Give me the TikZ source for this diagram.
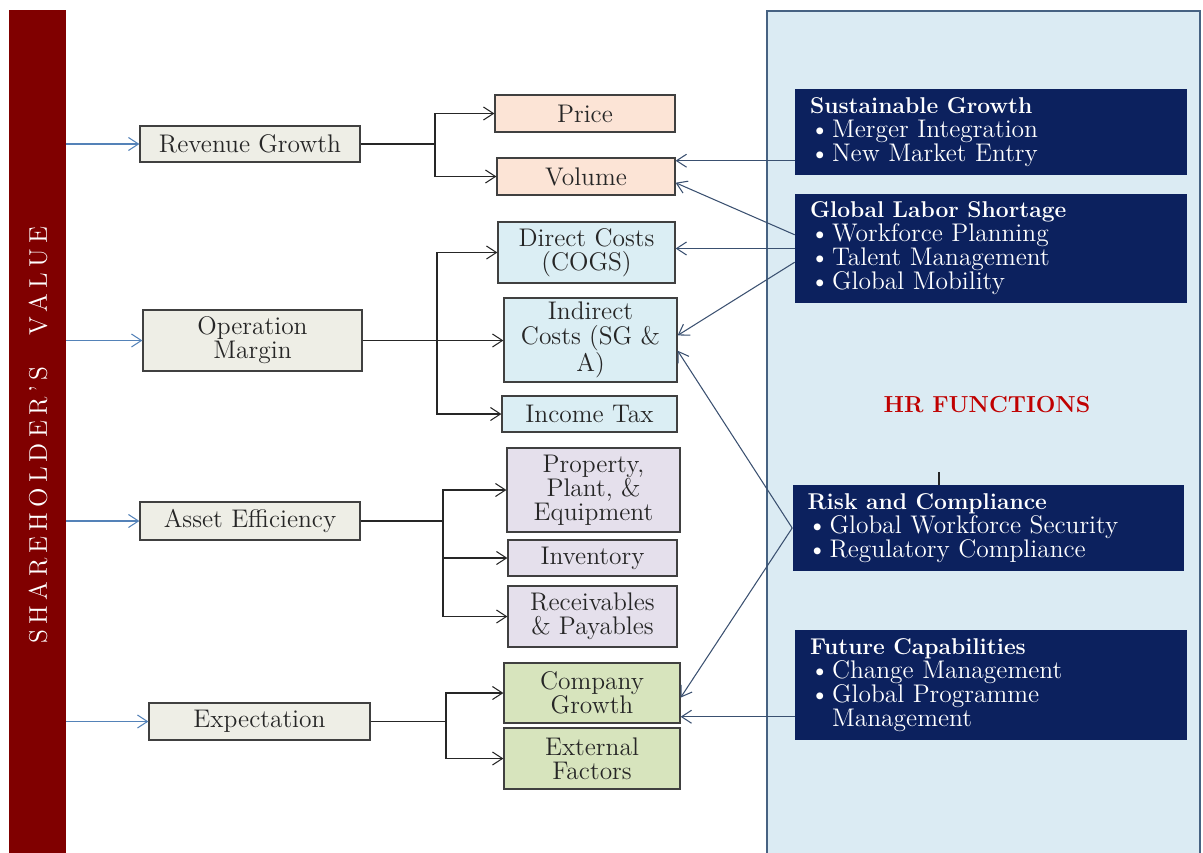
\documentclass[tikz,border=0pt]{standalone}
\usepackage{fontspec}
\usepackage{xcolor}
\usetikzlibrary{arrows.meta}

\definecolor{BarRed}{RGB}{128,0,0}
\definecolor{PanelBlue}{RGB}{219,235,243}
\definecolor{PanelEdge}{RGB}{70,98,130}
\definecolor{Navy}{RGB}{12,33,94}
\definecolor{RootGrey}{RGB}{238,238,230}
\definecolor{Peach}{RGB}{252,228,214}
\definecolor{IceBlue}{RGB}{219,238,244}
\definecolor{Lavender}{RGB}{229,224,236}
\definecolor{Olive}{RGB}{215,228,189}
\definecolor{FeedBlue}{RGB}{84,130,184}
\definecolor{LinkSlate}{RGB}{58,80,112}
\definecolor{HRRed}{RGB}{192,0,0}

\newcommand{\cardfont}{\fontsize{14.5}{13.7}\selectfont}
\newcommand{\HRitem}[1]{\makebox[0.44cm][l]{\textbullet}#1}

\begin{document}
\begin{tikzpicture}[x={(0.02cm,0cm)}, y={(0cm,-0.02cm)},
  >={Straight Barb[length=2mm,width=2.6mm]},
  driver/.style={draw=black!75, fill=RootGrey, line width=0.7pt, align=center, font=\cardfont, text=black!85, inner sep=1pt},
  lever/.style={draw=black!75, fill=#1, line width=0.7pt, align=center, font=\cardfont, text=black!85, inner sep=1pt},
  hrbox/.style={fill=Navy, text=white, text width=7.24cm, inner xsep=0.3cm, align=left, font=\cardfont},
  feed/.style={draw=FeedBlue, line width=0.6pt},
  branch/.style={draw=black!85, line width=0.6pt},
  link/.style={draw=LinkSlate, line width=0.6pt}]
  \useasboundingbox (0,0) rectangle (1203,852);

  % Background
  \node[fill=BarRed, minimum width=1.14cm, minimum height=17cm, inner sep=0pt] (Bar) at (37.5,435) {};
  \node[rotate=90, text=white, font={\fontsize{14.5}{15}\selectfont\spaceskip=0.2em\relax}] (BarLabel) at (38,435) {S H A R E H O L D E R ' S \quad V A L U E};
  \node[draw=PanelEdge, fill=PanelBlue, line width=1.6pt, minimum width=8.66cm, minimum height=17cm] (Panel) at (983.5,436) {};
  \node[text=HRRed, font=\bfseries\fontsize{13.2}{14}\selectfont] (HRTitle) at (987,405) {HR FUNCTIONS};

  % Nodes
  \node[driver, minimum width=4.4cm, minimum height=0.72cm] (RevGrowth) at (250,144) {Revenue Growth};
  \node[driver, minimum width=4.38cm, minimum height=1.22cm] (OpMargin) at (252.5,340.5) {Operation\\Margin};
  \node[driver, minimum width=4.4cm, minimum height=0.76cm] (AssetEff) at (250,521) {Asset Efficiency};
  \node[driver, minimum width=4.42cm, minimum height=0.74cm] (Expect) at (259.5,721.5) {Expectation};

  \node[lever=Peach, minimum width=3.6cm, minimum height=0.74cm] (Price) at (585,113.5) {Price};
  \node[lever=Peach, minimum width=3.56cm, minimum height=0.74cm] (Volume) at (586,176.5) {Volume};
  \node[lever=IceBlue, minimum width=3.54cm, minimum height=1.22cm] (Direct) at (586.5,252.5) {Direct Costs\\(COGS)};
  \node[lever=IceBlue, minimum width=3.46cm, minimum height=1.68cm] (Indirect) at (590.5,340) {Indirect\\Costs (SG \&\\A)};
  \node[lever=IceBlue, minimum width=3.5cm, minimum height=0.72cm] (IncomeTax) at (589.5,414) {Income Tax};
  \node[lever=Lavender, minimum width=3.46cm, minimum height=1.68cm] (PPE) at (593.5,490) {Property,\\Plant, \&\\Equipment};
  \node[lever=Lavender, minimum width=3.38cm, minimum height=0.72cm] (Inventory) at (592.5,558) {Inventory};
  \node[lever=Lavender, minimum width=3.38cm, minimum height=1.22cm] (Receiv) at (592.5,616.5) {Receivables\\\& Payables};
  \node[lever=Olive, minimum width=3.52cm, minimum height=1.2cm] (CompGrowth) at (592,693) {Company\\Growth};
  \node[lever=Olive, minimum width=3.52cm, minimum height=1.22cm] (ExtFactors) at (592,758.5) {External\\Factors};

  \node[hrbox, minimum height=1.72cm] (SusGrowth) at (991,132) {{\bfseries\fontsize{13}{13.7}\selectfont Sustainable Growth}\\\HRitem{Merger Integration}\\\HRitem{New Market Entry}};
  \node[hrbox, minimum height=2.18cm] (GLS) at (991,248.5) {{\bfseries\fontsize{13}{13.7}\selectfont Global Labor Shortage}\\\HRitem{Workforce Planning}\\\HRitem{Talent Management}\\\HRitem{Global Mobility}};
  \node[hrbox, minimum height=1.72cm] (RiskComp) at (988.5,528) {{\bfseries\fontsize{13}{13.7}\selectfont Risk and Compliance}\\\HRitem{Global Workforce Security}\\\HRitem{Regulatory Compliance}};
  \node[hrbox, minimum height=2.2cm] (FutCap) at (991,685) {{\bfseries\fontsize{13}{13.7}\selectfont Future Capabilities}\\\HRitem{Change Management}\\\HRitem{Global Programme}\\\hspace*{0.44cm}Management};

  \coordinate (RevFork) at (435,144);
  \coordinate (OpFork) at (437,340.5);
  \coordinate (AssetFork) at (443,521);
  \coordinate (ExpFork) at (446,721.5);
  \coordinate (Tick) at (939,472);

  % Edges
  \draw[feed,->] (Bar.east |- RevGrowth.west) -- (RevGrowth.west);
  \draw[feed,->] (Bar.east |- OpMargin.west) -- (OpMargin.west);
  \draw[feed,->] (Bar.east |- AssetEff.west) -- (AssetEff.west);
  \draw[feed,->] (Bar.east |- Expect.west) -- (Expect.west);

  \draw[branch] (RevGrowth.east) -- (RevFork);
  \draw[branch,<->] (Price.west) -| (RevFork) |- (Volume.west);
  \draw[branch,->] (OpMargin.east) -- (OpMargin.east -| Indirect.west);
  \draw[branch,<->] (Direct.west) -| (OpFork) |- (IncomeTax.west);
  \draw[branch] (AssetEff.east) -- (AssetFork);
  \draw[branch,<->] (PPE.west) -| (AssetFork) |- (Receiv.west);
  \draw[branch,->] (AssetFork |- Inventory.west) -- (Inventory.west);
  \draw[branch] (Expect.east) -- (ExpFork);
  \draw[branch,<->] (CompGrowth.west) -| (ExpFork) |- (ExtFactors.west);
  \draw[branch] (Tick) -- (Tick |- RiskComp.north);

  \draw[link,->] (SusGrowth.west |- Volume.10) -- (Volume.10);
  \draw[link,->] (GLS.176) -- (Volume.-4);
  \draw[link,->] (GLS.west) -- (GLS.west -| Direct.east);
  \draw[link,->] (GLS.184) -- (Indirect.3);
  \draw[link,->] (RiskComp.west) -- (Indirect.-7);
  \draw[link,->] (RiskComp.west) -- (CompGrowth.-3);
  \draw[link,->] (FutCap.west |- CompGrowth.-15) -- (CompGrowth.-15);
\end{tikzpicture}
\end{document}
